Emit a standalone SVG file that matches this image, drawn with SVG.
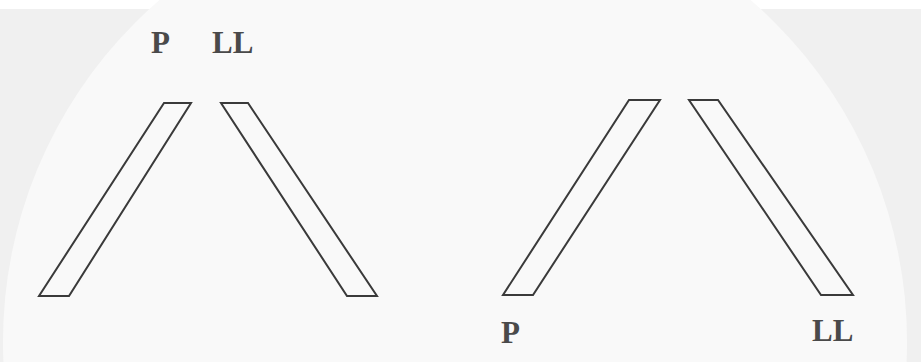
<svg xmlns="http://www.w3.org/2000/svg" width="921" height="362" viewBox="0 0 921 362">
<style>
.bar{fill:none;stroke:#3a3a3a;stroke-width:2;stroke-linejoin:miter}
.lbl{font-family:"Liberation Serif","Times New Roman",serif;font-weight:bold;font-size:31px;fill:#4a4a4a}
</style>
<rect x="0" y="0" width="921" height="362" fill="#ffffff"/>
<rect x="0" y="9" width="921" height="353" fill="#f0f0f0"/>
<circle cx="455" cy="342" r="452" fill="#f9f9f9"/>
<g id="left-panel">
<g id="left-P-bar"><polygon class="bar" points="164,103 191,103 69,296 39,296"/></g>
<g id="left-LL-bar"><polygon class="bar" points="221,103 248,103 377,296 347,296"/></g>
<g id="left-P-label"><text class="lbl" x="151" y="53">P</text></g>
<g id="left-LL-label"><text class="lbl" x="212" y="53">LL</text></g>
</g>
<g id="right-panel">
<g id="right-P-bar"><polygon class="bar" points="629,100 660,100 533,295 503,295"/></g>
<g id="right-LL-bar"><polygon class="bar" points="689,100 718,100 853,295 821,295"/></g>
<g id="right-P-label"><text class="lbl" x="501" y="343">P</text></g>
<g id="right-LL-label"><text class="lbl" x="812" y="341">LL</text></g>
</g>
<g id="connectors"/>
</svg>
